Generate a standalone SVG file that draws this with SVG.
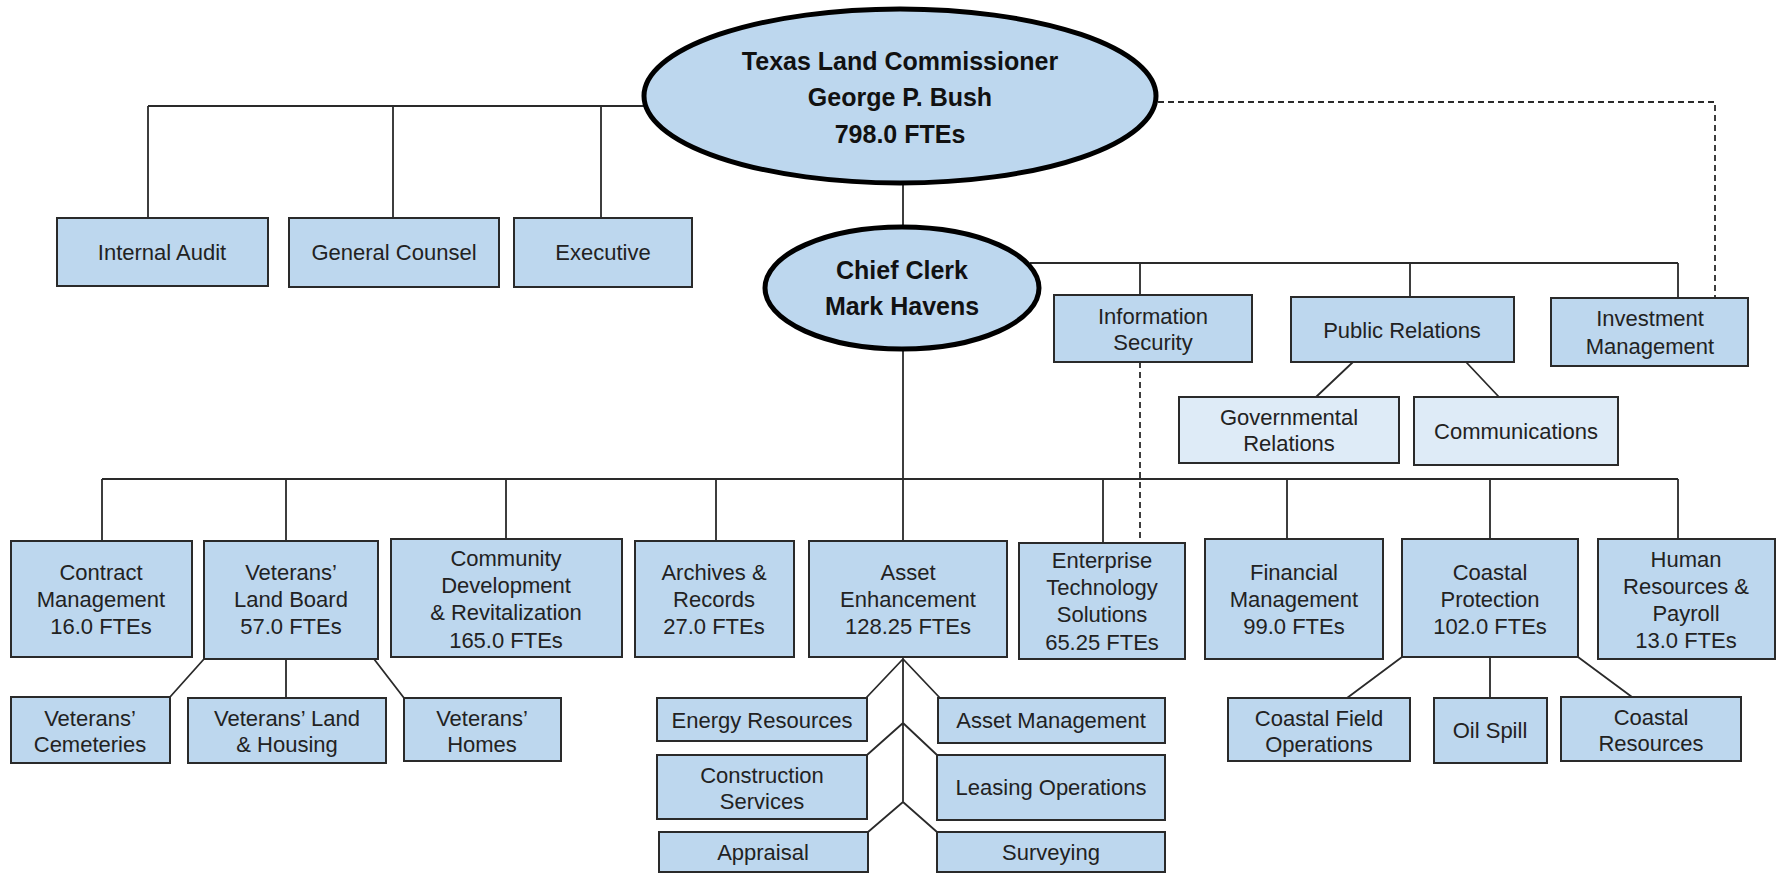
<svg xmlns="http://www.w3.org/2000/svg" width="1777" height="874" viewBox="0 0 1777 874">
<style>
.bg{fill:#ffffff}
.box{fill:#bdd7ee;stroke:#2a2a2a;stroke-width:2}
.lbox{fill:#deebf7;stroke:#2a2a2a;stroke-width:2}
.ell{fill:#bdd7ee;stroke:#000;stroke-width:5}
.ln{fill:none;stroke:#2a2a2a;stroke-width:1.8}
.dash{fill:none;stroke:#2a2a2a;stroke-width:1.8;stroke-dasharray:6 4}
text{font-family:"Liberation Sans",Arial,sans-serif;font-size:22px;fill:#222;text-anchor:middle}
.b{font-weight:bold;font-size:25px;fill:#111}
</style>
<rect class="bg" x="0" y="0" width="1777" height="874"/>
<g id="connectors">
<path class="ln" d="M148,106 H646 M148,106 V218 M393,106 V218 M601,106 V218"/>
<path class="ln" d="M903,183 V227 M903,349 V541"/>
<path class="ln" d="M102,479 H1678 M102,479 V541 M286,479 V541 M506,479 V539 M716,479 V541 M1103,479 V543 M1287,479 V539 M1490,479 V539 M1678,479 V539"/>
<path class="ln" d="M1030,263 H1678 M1140,263 V295 M1410,263 V297 M1678,263 V298"/>
<path class="ln" d="M1353,362 L1316,397 M1466,362 L1499,397"/>
<path class="ln" d="M204,659 L170,697 M286,659 V698 M374,659 L404,698"/>
<path class="ln" d="M903,657 V802 M903,659 L866,698 M903,659 L940,698 M903,723 L867,755 M903,723 L937,755 M903,802 L868,832 M903,802 L937,832"/>
<path class="ln" d="M1402,657 L1347,698 M1490,657 V698 M1578,657 L1632,697"/>
<path class="dash" d="M1158,102 H1715 V298"/>
<path class="dash" d="M1140,362 V543"/>
</g>
<g id="commissioner">
<ellipse class="ell" cx="900" cy="96" rx="256" ry="87"/>
<text class="b" x="900" y="70">Texas Land Commissioner</text>
<text class="b" x="900" y="106">George P. Bush</text>
<text class="b" x="900" y="143">798.0 FTEs</text>
</g>
<g id="chief-clerk">
<ellipse class="ell" cx="902" cy="288" rx="137" ry="61"/>
<text class="b" x="902" y="279">Chief Clerk</text>
<text class="b" x="902" y="315">Mark Havens</text>
</g>
<g id="internal-audit"><rect class="box" x="57" y="218" width="211" height="68"/><text x="162" y="260">Internal Audit</text></g>
<g id="general-counsel"><rect class="box" x="289" y="218" width="210" height="69"/><text x="394" y="260">General Counsel</text></g>
<g id="executive"><rect class="box" x="514" y="218" width="178" height="69"/><text x="603" y="260">Executive</text></g>
<g id="information-security"><rect class="box" x="1054" y="295" width="198" height="67"/><text x="1153" y="324">Information</text><text x="1153" y="350">Security</text></g>
<g id="public-relations"><rect class="box" x="1291" y="297" width="223" height="65"/><text x="1402" y="338">Public Relations</text></g>
<g id="investment-management"><rect class="box" x="1551" y="298" width="197" height="68"/><text x="1650" y="326">Investment</text><text x="1650" y="354">Management</text></g>
<g id="governmental-relations"><rect class="lbox" x="1179" y="397" width="220" height="66"/><text x="1289" y="425">Governmental</text><text x="1289" y="451">Relations</text></g>
<g id="communications"><rect class="lbox" x="1414" y="397" width="204" height="68"/><text x="1516" y="439">Communications</text></g>
<g id="contract-management"><rect class="box" x="11" y="541" width="181" height="116"/><text x="101" y="580">Contract</text><text x="101" y="607">Management</text><text x="101" y="634">16.0 FTEs</text></g>
<g id="veterans-land-board"><rect class="box" x="204" y="541" width="174" height="118"/><text x="291" y="580">Veterans’</text><text x="291" y="607">Land Board</text><text x="291" y="634">57.0 FTEs</text></g>
<g id="community-development"><rect class="box" x="391" y="539" width="231" height="118"/><text x="506" y="566">Community</text><text x="506" y="593">Development</text><text x="506" y="620">&amp; Revitalization</text><text x="506" y="648">165.0 FTEs</text></g>
<g id="archives-records"><rect class="box" x="635" y="541" width="159" height="116"/><text x="714" y="580">Archives &amp;</text><text x="714" y="607">Records</text><text x="714" y="634">27.0 FTEs</text></g>
<g id="asset-enhancement"><rect class="box" x="809" y="541" width="198" height="116"/><text x="908" y="580">Asset</text><text x="908" y="607">Enhancement</text><text x="908" y="634">128.25 FTEs</text></g>
<g id="enterprise-technology"><rect class="box" x="1019" y="543" width="166" height="116"/><text x="1102" y="568">Enterprise</text><text x="1102" y="595">Technology</text><text x="1102" y="622">Solutions</text><text x="1102" y="650">65.25 FTEs</text></g>
<g id="financial-management"><rect class="box" x="1205" y="539" width="178" height="120"/><text x="1294" y="580">Financial</text><text x="1294" y="607">Management</text><text x="1294" y="634">99.0 FTEs</text></g>
<g id="coastal-protection"><rect class="box" x="1402" y="539" width="176" height="118"/><text x="1490" y="580">Coastal</text><text x="1490" y="607">Protection</text><text x="1490" y="634">102.0 FTEs</text></g>
<g id="human-resources"><rect class="box" x="1598" y="539" width="177" height="120"/><text x="1686" y="567">Human</text><text x="1686" y="594">Resources &amp;</text><text x="1686" y="621">Payroll</text><text x="1686" y="648">13.0 FTEs</text></g>
<g id="veterans-cemeteries"><rect class="box" x="11" y="697" width="159" height="66"/><text x="90" y="726">Veterans’</text><text x="90" y="752">Cemeteries</text></g>
<g id="veterans-land-housing"><rect class="box" x="188" y="698" width="198" height="65"/><text x="287" y="726">Veterans’ Land</text><text x="287" y="752">&amp; Housing</text></g>
<g id="veterans-homes"><rect class="box" x="404" y="698" width="157" height="63"/><text x="482" y="726">Veterans’</text><text x="482" y="752">Homes</text></g>
<g id="energy-resources"><rect class="box" x="657" y="698" width="210" height="43"/><text x="762" y="728">Energy Resources</text></g>
<g id="construction-services"><rect class="box" x="657" y="755" width="210" height="64"/><text x="762" y="783">Construction</text><text x="762" y="809">Services</text></g>
<g id="appraisal"><rect class="box" x="659" y="832" width="209" height="40"/><text x="763" y="860">Appraisal</text></g>
<g id="asset-management"><rect class="box" x="938" y="698" width="227" height="45"/><text x="1051" y="728">Asset Management</text></g>
<g id="leasing-operations"><rect class="box" x="937" y="755" width="228" height="65"/><text x="1051" y="795">Leasing Operations</text></g>
<g id="surveying"><rect class="box" x="937" y="832" width="228" height="40"/><text x="1051" y="860">Surveying</text></g>
<g id="coastal-field-operations"><rect class="box" x="1228" y="698" width="182" height="63"/><text x="1319" y="726">Coastal Field</text><text x="1319" y="752">Operations</text></g>
<g id="oil-spill"><rect class="box" x="1434" y="698" width="113" height="65"/><text x="1490" y="738">Oil Spill</text></g>
<g id="coastal-resources"><rect class="box" x="1561" y="697" width="180" height="64"/><text x="1651" y="725">Coastal</text><text x="1651" y="751">Resources</text></g>
</svg>
